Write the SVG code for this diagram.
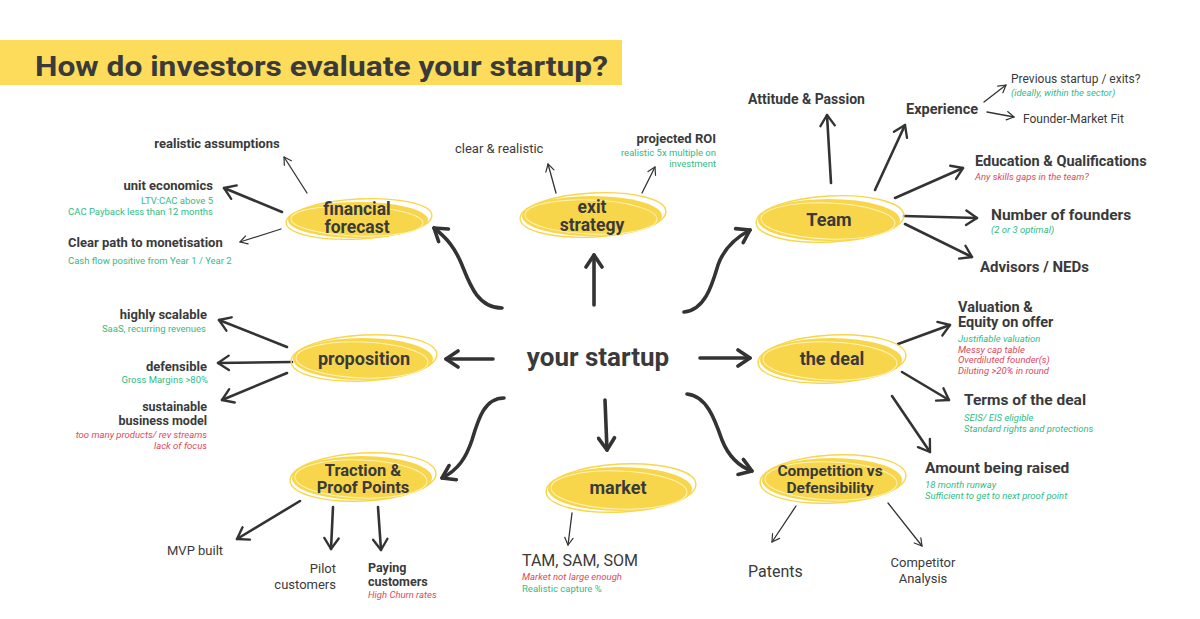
<svg xmlns="http://www.w3.org/2000/svg" width="1200" height="619" viewBox="0 0 1200 619">
<style>
text{font-family:Roboto,"Liberation Sans",sans-serif;fill:#3a3a3a}
.b{font-weight:700}
.n{font-weight:700;text-anchor:middle}
.r{font-weight:400}
.g{fill:#2fbc86;font-size:9.5px}
.red{fill:#e0485c;font-size:9.5px}
.i{font-style:italic}
.e{text-anchor:end}
.m{text-anchor:middle}
.blob{fill:#f8d64c}
.rim{fill:none;stroke:#f8d64c;stroke-width:1.4}
.hl{fill:none;stroke:#fff3b8;stroke-width:1}
.L{fill:none;stroke:#333;stroke-width:3.6;stroke-linecap:round;marker-end:url(#ahL)}
.M{fill:none;stroke:#333;stroke-width:2.6;stroke-linecap:round;marker-end:url(#ahM)}
.S{fill:none;stroke:#333;stroke-width:1.3;stroke-linecap:round;marker-end:url(#ahS)}
</style>
<defs>
<marker id="ahL" viewBox="0 0 20 20" refX="17" refY="10" markerWidth="20" markerHeight="20" orient="auto" markerUnits="userSpaceOnUse"><path d="M5,2 L17,10 L5,18" fill="none" stroke="#333" stroke-width="3.6" stroke-linecap="round" stroke-linejoin="round"/></marker>
<marker id="ahM" viewBox="0 0 20 20" refX="17" refY="10" markerWidth="18" markerHeight="18" orient="auto" markerUnits="userSpaceOnUse"><path d="M5,2 L17,10 L5,18" fill="none" stroke="#333" stroke-width="2.6" stroke-linecap="round" stroke-linejoin="round"/></marker>
<marker id="ahS" viewBox="0 0 20 20" refX="17" refY="10" markerWidth="12" markerHeight="12" orient="auto" markerUnits="userSpaceOnUse"><path d="M5,3 L17,10 L5,17" fill="none" stroke="#333" stroke-width="2" stroke-linecap="round" stroke-linejoin="round"/></marker>
</defs>
<rect width="1200" height="619" fill="#fff"/>
<rect x="0" y="40" width="622" height="45" fill="#fddc5c"/>
<text x="35" y="76" class="b" font-size="28" textLength="573" lengthAdjust="spacingAndGlyphs">How do investors evaluate your startup?</text>

<g id="center"><text x="598" y="366" class="n" font-size="26">your startup</text></g>

<g id="connectors">
<path class="L" d="M594,305 L594,255"/>
<path class="L" d="M493,359 L446,359"/>
<path class="L" d="M700,358 L750,358"/>
<path class="L" d="M605,400 L607,450"/>
<path class="L" d="M502,308 C478,308 470,285 462,265 C455,248 447,238 434,228"/>
<path class="L" d="M684,312 C705,310 712,285 718,265 C724,248 735,238 750,230"/>
<path class="L" d="M504,398 C484,398 478,420 472,440 C466,458 458,470 442,478"/>
<path class="L" d="M687,394 C707,396 715,420 722,440 C728,455 738,466 752,471"/>
<path class="S" d="M307,193 L284,157"/>
<path class="M" d="M282,212 L224,188"/>
<path class="S" d="M281,229 L240,242"/>
<path class="S" d="M556,193 L548,164"/>
<path class="S" d="M642,193 L655,167"/>
<path class="M" d="M831,183 L827,115"/>
<path class="M" d="M875,190 L905,125"/>
<path class="S" d="M984,102 L1006,85"/>
<path class="S" d="M987,112 L1014,117"/>
<path class="M" d="M895,198 L963,168"/>
<path class="M" d="M904,216 L977,218"/>
<path class="M" d="M905,224 L972,257"/>
<path class="M" d="M287,347 L219,320"/>
<path class="M" d="M292,362 L218,363"/>
<path class="M" d="M287,373 L222,400"/>
<path class="M" d="M898,344 L950,325"/>
<path class="M" d="M902,372 L949,400"/>
<path class="M" d="M892,396 L930,452"/>
<path class="M" d="M300,501 L237,539"/>
<path class="M" d="M333,507 L331,549"/>
<path class="M" d="M378,507 L381,550"/>
<path class="S" d="M572,513 L568,545"/>
<path class="S" d="M796,506 L772,542"/>
<path class="S" d="M888,503 L922,546"/>
</g>

<g id="financial-forecast">
<ellipse class="blob" cx="358" cy="220" rx="70" ry="18"/>
<ellipse class="rim" cx="359" cy="219" rx="73" ry="20" transform="rotate(-3 359 219)"/>
<ellipse class="hl" cx="357" cy="221" rx="66" ry="15" transform="rotate(2 357 221)"/>
<text x="357" y="215" class="n" font-size="17.5">financial</text>
<text x="357" y="233" class="n" font-size="17.5">forecast</text>
</g>
<g id="fin-items">
<text x="217" y="148" class="b m" font-size="13">realistic assumptions</text>
<text x="213" y="190" class="b e" font-size="13">unit economics</text>
<text x="213" y="204" class="g e">LTV:CAC  above 5</text>
<text x="213" y="215" class="g e">CAC Payback less than 12 months</text>
<text x="68" y="247" class="b" font-size="13">Clear path to monetisation</text>
<text x="68" y="264" class="g">Cash flow positive from Year 1 / Year 2</text>
</g>

<g id="exit-strategy">
<ellipse class="blob" cx="592" cy="216" rx="70" ry="20"/>
<ellipse class="rim" cx="593" cy="215" rx="73" ry="22" transform="rotate(-3 593 215)"/>
<ellipse class="hl" cx="591" cy="217" rx="66" ry="17" transform="rotate(2 591 217)"/>
<text x="592" y="213" class="n" font-size="17.5">exit</text>
<text x="592" y="231" class="n" font-size="17.5">strategy</text>
</g>
<g id="exit-items">
<text x="455" y="153" class="r" font-size="13">clear &amp; realistic</text>
<text x="716" y="143" class="b e" font-size="13">projected ROI</text>
<text x="716" y="156" class="g e">realistic 5x multiple on</text>
<text x="716" y="167" class="g e">investment</text>
</g>

<g id="team">
<ellipse class="blob" cx="829" cy="220" rx="71" ry="21"/>
<ellipse class="rim" cx="830" cy="219" rx="74" ry="23" transform="rotate(-3 830 219)"/>
<ellipse class="hl" cx="828" cy="221" rx="67" ry="18" transform="rotate(2 828 221)"/>
<text x="829" y="226" class="n" font-size="18">Team</text>
</g>
<g id="team-items">
<text x="748" y="104" class="b" font-size="14">Attitude &amp; Passion</text>
<text x="906" y="114" class="b" font-size="14.5">Experience</text>
<text x="1011" y="83" class="r" font-size="12">Previous startup / exits?</text>
<text x="1011" y="96" class="g i" font-size="9">(ideally, within the sector)</text>
<text x="1023" y="123" class="r" font-size="12">Founder-Market Fit</text>
<text x="975" y="166" class="b" font-size="14.5">Education &amp; Qualifications</text>
<text x="975" y="180" class="red i">Any skills gaps in the team?</text>
<text x="991" y="220" class="b" font-size="15.5">Number of founders</text>
<text x="991" y="233" class="g i">(2 or 3 optimal)</text>
<text x="980" y="272" class="b" font-size="15">Advisors / NEDs</text>
</g>

<g id="proposition">
<ellipse class="blob" cx="363" cy="359" rx="70" ry="21"/>
<ellipse class="rim" cx="364" cy="358" rx="73" ry="23" transform="rotate(-3 364 358)"/>
<ellipse class="hl" cx="362" cy="360" rx="66" ry="18" transform="rotate(2 362 360)"/>
<text x="364" y="365" class="n" font-size="18">proposition</text>
</g>
<g id="prop-items">
<text x="207" y="319" class="b e" font-size="13">highly scalable</text>
<text x="206" y="332" class="g e">SaaS, recurring revenues</text>
<text x="207" y="371" class="b e" font-size="13">defensible</text>
<text x="208" y="383" class="g e">Gross Margins &gt;80%</text>
<text x="207" y="411" class="b e" font-size="12.5">sustainable</text>
<text x="207" y="425" class="b e" font-size="12.5">business model</text>
<text x="207" y="438" class="red i e">too many products/ rev streams</text>
<text x="207" y="449" class="red i e">lack of focus</text>
</g>

<g id="the-deal">
<ellipse class="blob" cx="831" cy="360" rx="71" ry="22"/>
<ellipse class="rim" cx="832" cy="359" rx="74" ry="24" transform="rotate(-3 832 359)"/>
<ellipse class="hl" cx="830" cy="361" rx="67" ry="19" transform="rotate(2 830 361)"/>
<text x="832" y="365" class="n" font-size="18">the deal</text>
</g>
<g id="deal-items">
<text x="958" y="312" class="b" font-size="14.5">Valuation &amp;</text>
<text x="958" y="327" class="b" font-size="14.5">Equity on offer</text>
<text x="958" y="342" class="g i">Justifiable valuation</text>
<text x="958" y="353" class="red i">Messy cap table</text>
<text x="958" y="363" class="red i">Overdiluted founder(s)</text>
<text x="958" y="374" class="red i">Diluting &gt;20% in round</text>
<text x="964" y="405" class="b" font-size="15.5">Terms of the deal</text>
<text x="964" y="421" class="g i">SEIS/ EIS eligible</text>
<text x="964" y="432" class="g i">Standard rights and protections</text>
<text x="925" y="473" class="b" font-size="15.5">Amount being raised</text>
<text x="925" y="488" class="g i">18 month runway</text>
<text x="925" y="499" class="g i">Sufficient to get to next proof point</text>
</g>

<g id="traction">
<ellipse class="blob" cx="362" cy="478" rx="70" ry="22"/>
<ellipse class="rim" cx="363" cy="477" rx="73" ry="24" transform="rotate(-3 363 477)"/>
<ellipse class="hl" cx="361" cy="479" rx="66" ry="19" transform="rotate(2 361 479)"/>
<text x="363" y="476" class="n" font-size="16.5">Traction &amp;</text>
<text x="363" y="493" class="n" font-size="16.5">Proof Points</text>
</g>
<g id="traction-items">
<text x="167" y="555" class="r" font-size="13">MVP built</text>
<text x="336" y="573" class="r e" font-size="13">Pilot</text>
<text x="336" y="589" class="r e" font-size="13">customers</text>
<text x="368" y="572" class="b" font-size="12.5">Paying</text>
<text x="368" y="586" class="b" font-size="12.5">customers</text>
<text x="368" y="598" class="red i">High Churn rates</text>
</g>

<g id="market">
<ellipse class="blob" cx="620" cy="489" rx="72" ry="22"/>
<ellipse class="rim" cx="621" cy="488" rx="75" ry="24" transform="rotate(-3 621 488)"/>
<ellipse class="hl" cx="619" cy="490" rx="68" ry="19" transform="rotate(2 619 490)"/>
<text x="618" y="494" class="n" font-size="18">market</text>
</g>
<g id="market-items">
<text x="522" y="566" class="r" font-size="16">TAM, SAM, SOM</text>
<text x="522" y="580" class="red i">Market not large enough</text>
<text x="522" y="592" class="g">Realistic capture %</text>
</g>

<g id="competition">
<ellipse class="blob" cx="832" cy="480" rx="70" ry="22"/>
<ellipse class="rim" cx="833" cy="479" rx="73" ry="24" transform="rotate(-3 833 479)"/>
<ellipse class="hl" cx="831" cy="481" rx="66" ry="19" transform="rotate(2 831 481)"/>
<text x="830" y="476" class="n" font-size="15.5">Competition vs</text>
<text x="830" y="493" class="n" font-size="15.5">Defensibility</text>
</g>
<g id="comp-items">
<text x="748" y="577" class="r" font-size="16">Patents</text>
<text x="923" y="567" class="r m" font-size="13">Competitor</text>
<text x="923" y="583" class="r m" font-size="13">Analysis</text>
</g>
</svg>
